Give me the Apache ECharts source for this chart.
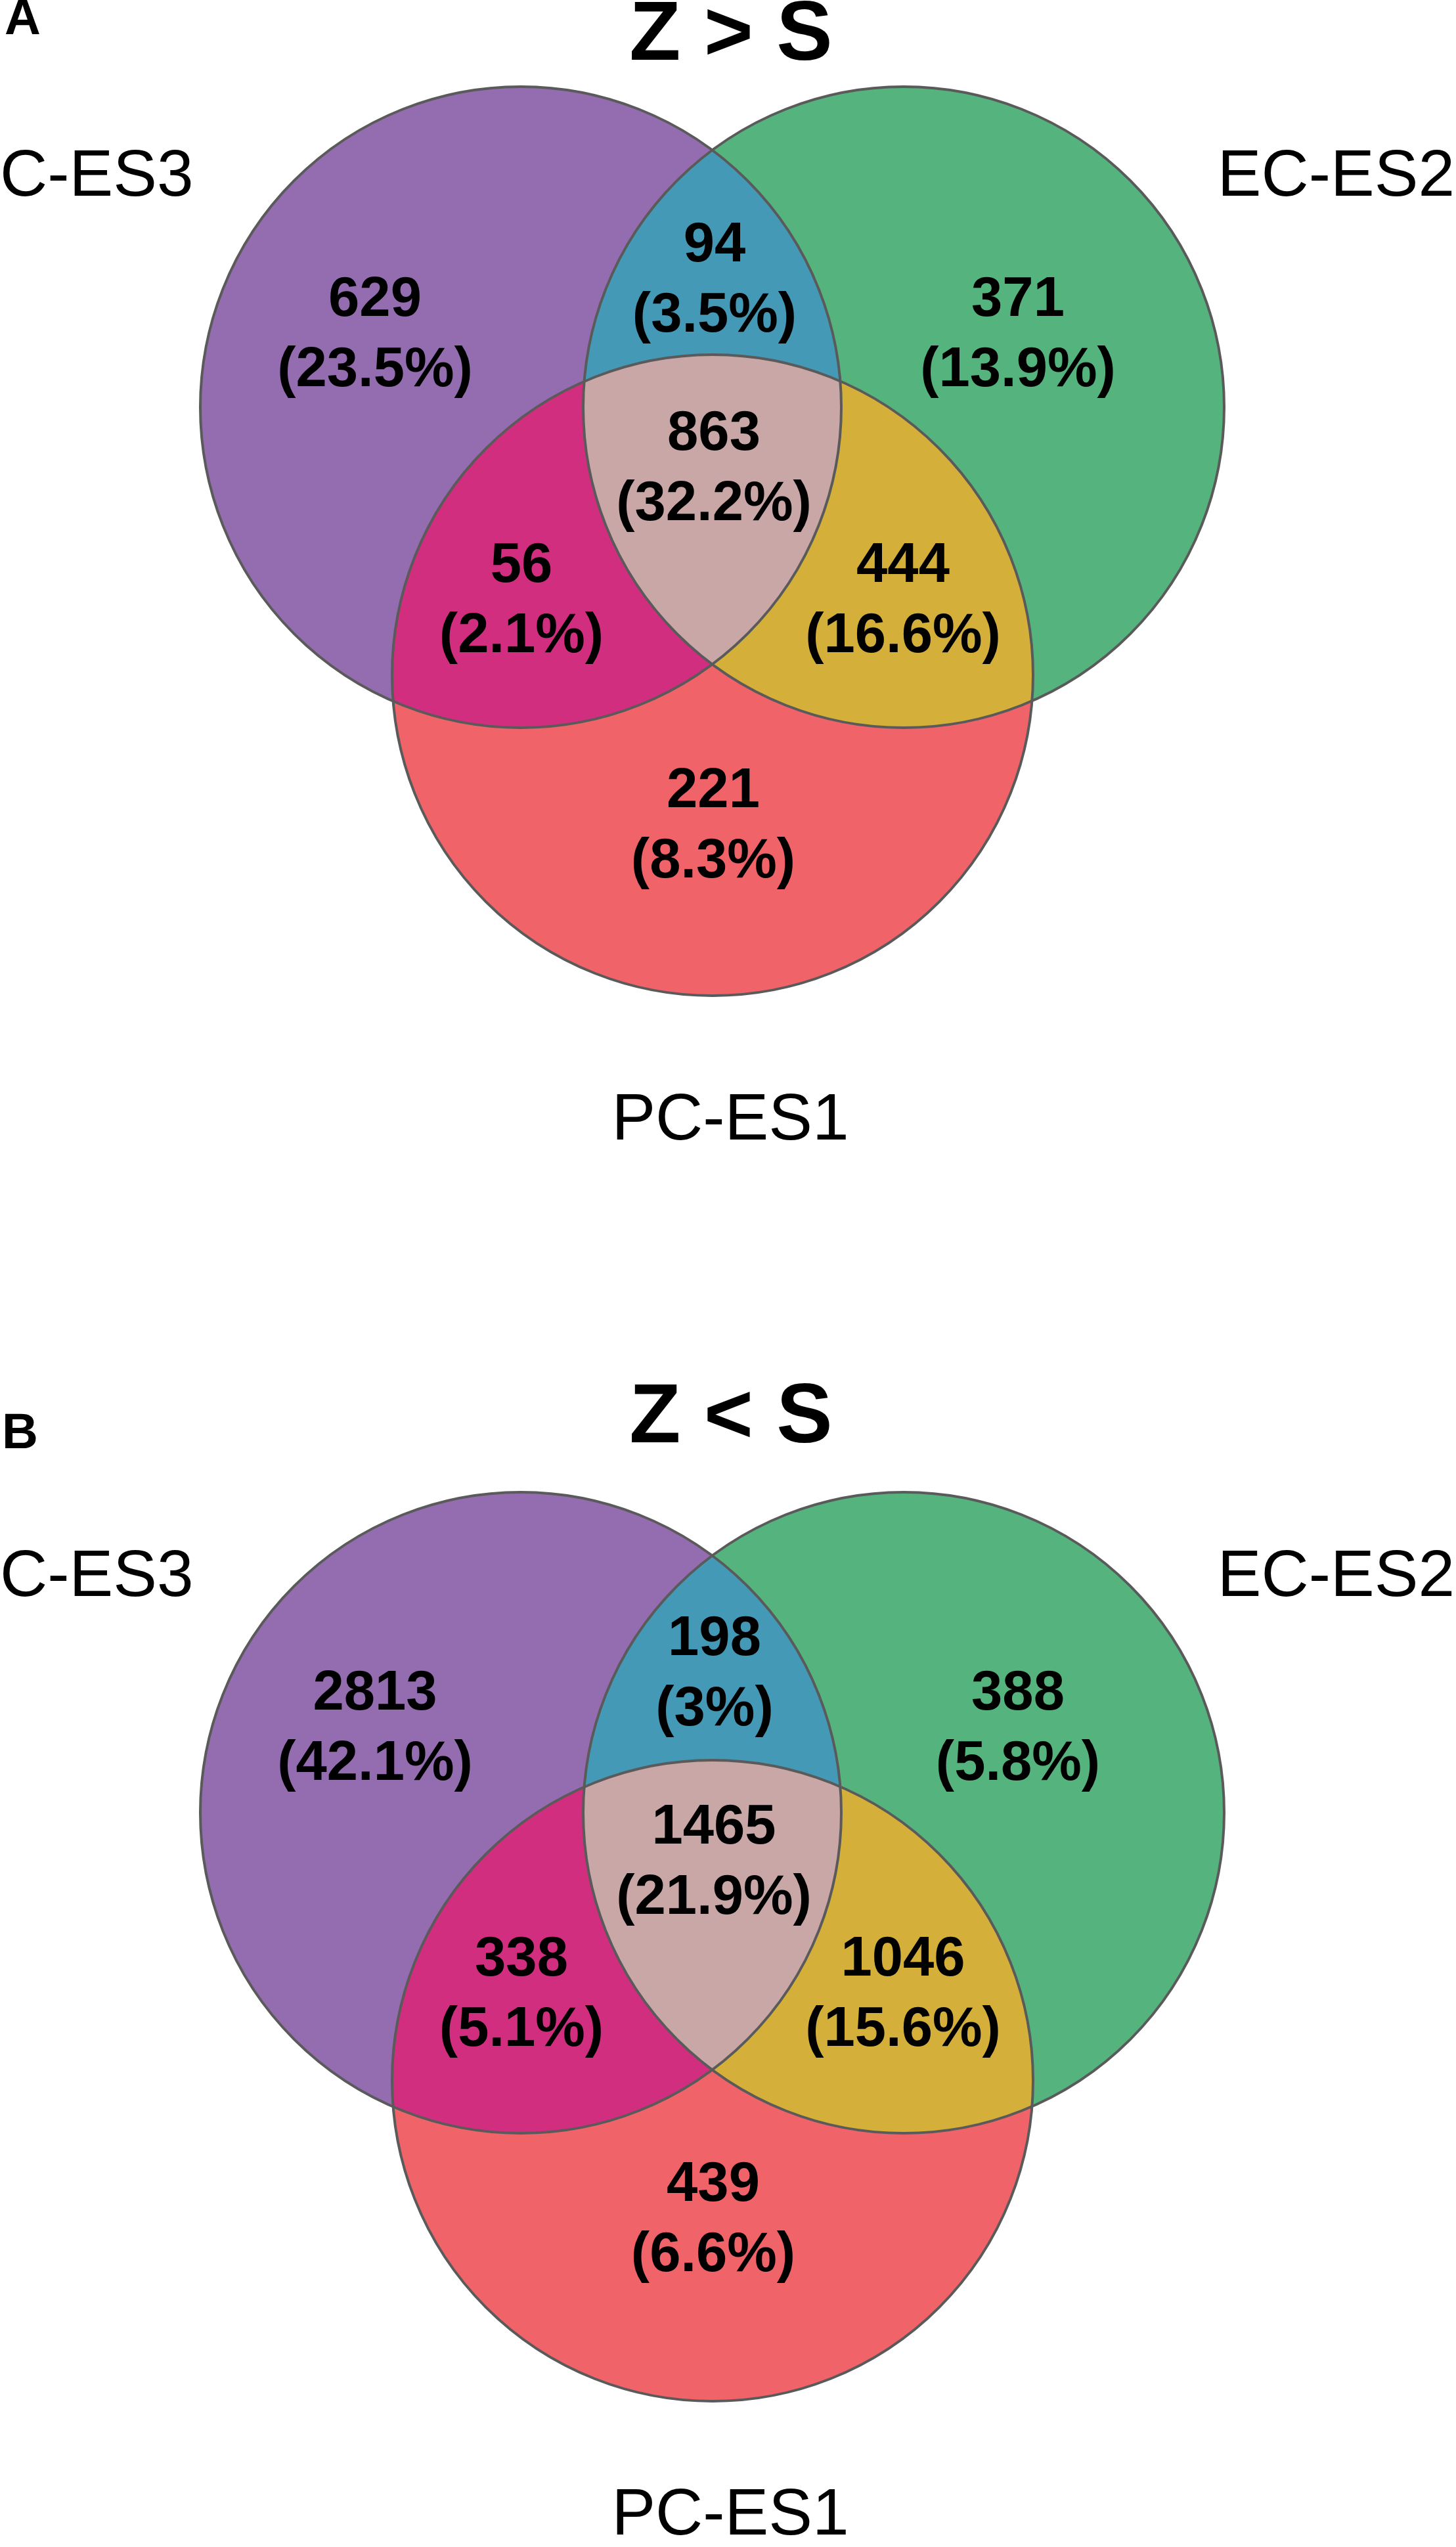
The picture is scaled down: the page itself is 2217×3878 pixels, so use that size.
<!DOCTYPE html>
<html>
<head>
<meta charset="utf-8">
<title>Z &gt; S / Z &lt; S Venn diagrams</title>
<script src="https://cdn.jsdelivr.net/npm/echarts@6/dist/echarts.min.js"></script>
<style>
  html, body { margin: 0; padding: 0; background: #ffffff; }
  #chart { width: 2217px; height: 3878px; }
</style>
</head>
<body>
<div id="chart"></div>
<script>
// Data
// region order: C-ES3 only, EC-ES2 only, PC-ES1 only, C&EC, C&PC, EC&PC, all three
var setNames = ['C-ES3', 'EC-ES2', 'PC-ES1'];
var regionSets = [[0], [1], [2], [0, 1], [0, 2], [1, 2], [0, 1, 2]];
var panelLetters = ['A', 'B'];
var panelTitles = ['Z > S', 'Z < S'];
var countsA = [629, 371, 221, 94, 56, 444, 863];
var percentA = ['23.5%', '13.9%', '8.3%', '3.5%', '2.1%', '16.6%', '32.2%'];
var countsB = [2813, 388, 439, 198, 338, 1046, 1465];
var percentB = ['42.1%', '5.8%', '6.6%', '3%', '5.1%', '15.6%', '21.9%'];

// Layout (panel-local pixels)
var circleCenters = [[793, 620], [1376, 620], [1085, 1028]];
var R = 488;
var labelAnchors = [[571, 458], [1550, 458], [1086, 1206], [1088, 375], [794, 863], [1375, 863], [1087, 662]];
var lineGap = 107;
var panelTop = [0, 2140];
var labelShift = [0, -18];
var regionColors = ['#946cb0', '#55b37e', '#f06369', '#4499b6', '#d22e80', '#d4b03a', '#c8a7a6'];
var FONT = '"Liberation Sans", Arial, Helvetica, sans-serif';

var chartDom = document.getElementById('chart');
var myChart = echarts.init(chartDom, null, { renderer: 'canvas' });

// polygon of a region: single set -> whole circle (overlaps are painted on top),
// otherwise the points of each member circle that lie inside all other members
var N = 1440;
function regionPolygon(members) {
  var pts = [];
  members.forEach(function (i) {
    var c = circleCenters[i];
    for (var k = 0; k < N; k++) {
      var t = 2 * Math.PI * k / N;
      var p = [c[0] + R * Math.cos(t), c[1] + R * Math.sin(t)];
      var ok = members.every(function (j) {
        if (j === i) return true;
        var dx = p[0] - circleCenters[j][0], dy = p[1] - circleCenters[j][1];
        return dx * dx + dy * dy <= R * R + 1e-6;
      });
      if (ok) pts.push(p);
    }
  });
  if (members.length > 1) {
    var mx = 0, my = 0;
    pts.forEach(function (p) { mx += p[0]; my += p[1]; });
    mx /= pts.length; my /= pts.length;
    pts.sort(function (a, b) {
      return Math.atan2(a[1] - my, a[0] - mx) - Math.atan2(b[1] - my, b[0] - mx);
    });
  }
  return pts;
}
var polygons = regionSets.map(regionPolygon);

var grids = [], xAxes = [], yAxes = [], series = [], graphics = [];
var allCounts = [countsA, countsB];
var allPercents = [percentA, percentB];

[0, 1].forEach(function (p) {
  grids.push({ left: 0, top: panelTop[p], width: 2217, height: 1738 });
  xAxes.push({ type: 'value', gridIndex: p, min: 0, max: 2217, show: false });
  yAxes.push({ type: 'value', gridIndex: p, min: 0, max: 1738, inverse: true, show: false });

  // filled regions
  series.push({
    type: 'custom',
    xAxisIndex: p,
    yAxisIndex: p,
    z: 1,
    silent: true,
    data: regionSets.map(function (s, i) { return [i, i]; }),
    renderItem: function (params, api) {
      var idx = api.value(0);
      var pts = polygons[idx].map(function (q) { return api.coord(q); });
      return {
        type: 'polygon',
        shape: { points: pts },
        style: { fill: regionColors[idx], stroke: null }
      };
    }
  });

  // circle outlines
  series.push({
    type: 'custom',
    xAxisIndex: p,
    yAxisIndex: p,
    z: 2,
    silent: true,
    data: setNames.map(function (n, i) { return [i, i]; }),
    renderItem: function (params, api) {
      var c = circleCenters[api.value(0)];
      var pt = api.coord(c);
      var r = api.size([R, 0])[0];
      return {
        type: 'circle',
        shape: { cx: pt[0], cy: pt[1], r: r },
        style: { fill: null, stroke: '#5a5a5a', lineWidth: 4 }
      };
    }
  });

  // counts and percentages
  var counts = allCounts[p];
  var percents = allPercents[p];
  series.push({
    type: 'custom',
    xAxisIndex: p,
    yAxisIndex: p,
    z: 3,
    silent: true,
    data: counts.map(function (v, i) {
      return [labelAnchors[i][0], labelAnchors[i][1] + labelShift[p], v];
    }),
    renderItem: function (params, api) {
      var a = api.coord([api.value(0), api.value(1)]);
      var b = api.coord([api.value(0), api.value(1) + lineGap]);
      var st = { fill: '#000000', font: 'bold 85px ' + FONT, textAlign: 'center', textVerticalAlign: 'middle' };
      return {
        type: 'group',
        children: [
          { type: 'text', x: a[0], y: a[1], style: Object.assign({ text: String(api.value(2)) }, st) },
          { type: 'text', x: b[0], y: b[1], style: Object.assign({ text: '(' + percents[params.dataIndex] + ')' }, st) }
        ]
      };
    }
  });
});

// panel letters, titles and set names
var letterPos = [[7, 31], [3, 2184]];
var titleY = [56, 2161];
var sideNameY = [270, 2402];
var bottomNameY = [1707, 3831];
[0, 1].forEach(function (p) {
  graphics.push({
    type: 'text', x: letterPos[p][0], y: letterPos[p][1], z: 10,
    style: { text: panelLetters[p], font: 'bold 76px ' + FONT, fill: '#000', textAlign: 'left', textVerticalAlign: 'middle' }
  });
  graphics.push({
    type: 'text', x: 1113, y: titleY[p], z: 10,
    style: { text: panelTitles[p], font: 'bold 128px ' + FONT, fill: '#000', textAlign: 'center', textVerticalAlign: 'middle' }
  });
  graphics.push({
    type: 'text', x: 0, y: sideNameY[p], z: 10,
    style: { text: setNames[0], font: '100px ' + FONT, fill: '#000', textAlign: 'left', textVerticalAlign: 'middle' }
  });
  graphics.push({
    type: 'text', x: 2215, y: sideNameY[p], z: 10,
    style: { text: setNames[1], font: '100px ' + FONT, fill: '#000', textAlign: 'right', textVerticalAlign: 'middle' }
  });
  graphics.push({
    type: 'text', x: 1112, y: bottomNameY[p], z: 10,
    style: { text: setNames[2], font: '100px ' + FONT, fill: '#000', textAlign: 'center', textVerticalAlign: 'middle' }
  });
});

var option = {
  backgroundColor: '#ffffff',
  animation: false,
  grid: grids,
  xAxis: xAxes,
  yAxis: yAxes,
  graphic: graphics,
  series: series
};

option && myChart.setOption(option);
</script>
</body>
</html>
